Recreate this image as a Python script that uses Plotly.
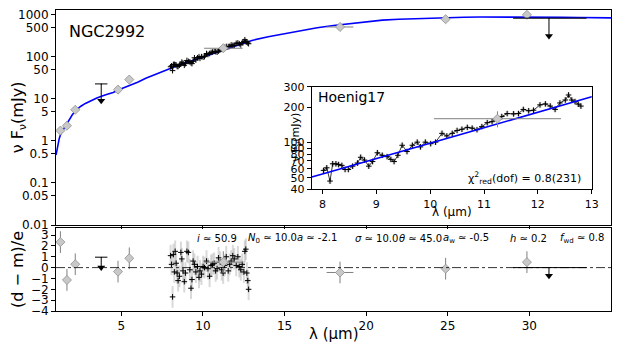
import plotly.graph_objects as go

# ---- data ----
# model SED (blue curve)
model_wave = [1.0, 1.1, 1.2, 1.3, 1.4, 1.5, 1.6, 1.7, 1.85, 2.0, 2.2, 2.5, 2.8, 3.1, 3.5,
              4.0, 4.5, 5.0, 5.5, 6.0, 6.5, 7.0, 7.5, 7.8, 8.0, 8.5, 9.0, 9.5, 10.0, 10.5,
              11.0, 11.5, 12.0, 12.5, 13.0, 14.0, 15.0, 16.0, 17.0, 18.0, 19.0, 20.0, 21.0,
              22.0, 23.0, 24.0, 25.0, 26.0, 27.0, 28.0, 29.0, 30.0, 31.0, 32.0, 33.0, 34.0, 35.0]
model_flux = [0.46, 0.75, 1.15, 1.5, 1.75, 1.95, 2.2, 2.6, 3.4, 4.2, 5.2, 6.6, 7.8, 9.0, 10.5,
              12.3, 14.2, 17.5, 20.5, 25, 31, 37, 45, 51, 54, 63, 73, 85, 99, 115,
              134, 156, 181, 211, 246, 300, 355, 425, 490, 555, 615, 690, 745,
              785, 815, 845, 862, 875, 885, 888, 886, 882, 875, 868, 860, 852, 845]

# photometry (grey diamonds)
phot_wave = [1.27, 1.67, 2.18, 4.8, 5.49, 11.25, 18.4, 24.87, 29.85]
phot_flux = [1.76, 2.3, 5.5, 16.6, 28.8, 160, 513, 785, 1000]
phot_ferr = [0.25, 0.3, 0.6, 3.5, 4.5, 25, 50, 150, 200]
phot_werr = [0, 0, 0, 0, 0, 1.18, 0.82, 0, 0]
phot_resid = [2.35, -1.14, 0.31, -0.37, 0.86, 0.5, -0.45, -0.1, 0.5]

# upper limits
ul_wave = [3.77, 31.2]
ul_flux = [22.7, 830]
ul_tip = [9.0, 313]
ul_werr_minus = [0.38, 2.2]
ul_werr_plus = [0.38, 2.3]
ul_resid_cap = [0.96, 0.0]
ul_resid_tip = [0.0, -0.75]

# N-band spectrum (Hoenig17)
spec_wave = [8.02, 8.08, 8.14, 8.19, 8.25, 8.30, 8.36, 8.42, 8.48, 8.56, 8.65, 8.71, 8.78, 8.86,
             8.93, 9.02, 9.11, 9.20, 9.27, 9.33, 9.40, 9.48, 9.57, 9.67, 9.76, 9.82, 9.91, 10.01,
             10.10, 10.22, 10.31, 10.41, 10.50, 10.59, 10.69, 10.78, 10.87, 10.96, 11.06, 11.15,
             11.24, 11.33, 11.43, 11.55, 11.64, 11.73, 11.83, 11.92, 12.04, 12.14, 12.23, 12.32,
             12.41, 12.51, 12.57, 12.63, 12.69, 12.75, 12.80]
spec_flux = [58, 61, 47, 66, 66, 65, 64, 59, 59, 63, 67, 75, 71, 63,
             69, 82, 78, 76, 72, 69, 78, 95, 84, 95, 101, 92, 101, 98,
             101, 120, 114, 120, 127, 130, 135, 133, 129, 137, 148, 151,
             161, 167, 177, 176, 177, 192, 187, 189, 210, 214, 205, 192,
             218, 231, 255, 231, 224, 213, 205]
spec_resid = [1.1, 0.3, -2.7, 1.2, -0.4, 1.5, 0.4, -0.5, -1.2, -0.8, 1.4, 0.8, -0.3, -1.3,
              -0.5, 1.5, 1.4, -0.2, -1.9, -1.1, 0.6, 0.3, -0.4, 0.1, -0.9, -0.3, -0.6, 0.1,
              0.0, 0.6, -0.1, -0.8, 0.2, 0.3, 0.4, -0.3, -0.1, 0.9, 0.5, -0.2,
              -0.5, 0.2, 1.0, -0.3, 0.3, 0.6, 1.1, 0.8, 0.2, 1.0, 0.1, -0.2,
              0.3, -0.4, 1.5, 1.7, -0.5, -1.2, -2.0]

main_yticks = [0.01, 0.05, 0.1, 0.5, 1, 5, 10, 50, 100, 500, 1000]
main_yticktext = ["0.01", "0.05", "0.1", "0.5", "1", "5", "10", "50", "100", "500", "1000"]
res_yticks = [-4, -3, -2, -1, 0, 1, 2, 3]
res_yticktext = ["\u22124", "\u22123", "\u22122", "\u22121", "0", "1", "2", "3"]
inset_yticks = [40, 50, 60, 70, 80, 90, 100, 200, 300]
x_ticks = [5, 10, 15, 20, 25, 30]

# ---- style ----
FONT = "DejaVu Sans"
BLUE = "#0000ff"
DIAMOND_FILL = "#c8c8c8"
DIAMOND_EDGE = "#909090"
ERR_GREY = "#808080"
SPEC_ERR = "rgba(170,170,170,0.45)"

# the page body adds an 8px offset, so the figure is drawn 8px smaller
PAGE_OFF = 8
W, H = 623 - PAGE_OFF, 346 - PAGE_OFF
ML, MR, MT, MB = 56 - PAGE_OFF, 12, 10 - PAGE_OFF, 35
PW, PH = 555, 301   # plot area in px


def px_x(X):
    """Screen x (reference pixels) -> paper fraction."""
    return (X - 56) / PW


def px_y(Y):
    """Screen y (reference pixels) -> paper fraction."""
    return (311 - Y) / PH


def base_axis(ticklen=4):
    return dict(
        showgrid=False, zeroline=False, showline=True, linecolor="black", linewidth=1,
        mirror=True, ticks="outside", ticklen=ticklen, tickwidth=1, tickcolor="black",
        automargin=False, ticklabeloverflow="allow",
    )


def diamonds(x, y, yerr, xerr, xa, ya, yerr_const=None):
    ey = (dict(type="constant", value=yerr_const, color=ERR_GREY, thickness=1, width=0)
          if yerr_const is not None else
          dict(type="data", array=yerr, color=ERR_GREY, thickness=1, width=0))
    return go.Scatter(x=x, y=y, mode="markers", error_y=ey,
                      error_x=dict(type="data", array=xerr, color=ERR_GREY, thickness=1, width=0),
                      marker=dict(symbol="diamond", size=7, color=DIAMOND_FILL,
                                  line=dict(color=DIAMOND_EDGE, width=0.8)),
                      xaxis=xa, yaxis=ya)


def upper_limits(caps, tips, xa, ya):
    traces = [go.Scatter(x=ul_wave, y=caps, mode="markers", marker=dict(size=1, color="black"),
                         error_x=dict(type="data", array=ul_werr_plus, arrayminus=ul_werr_minus,
                                      color="black", thickness=1, width=0),
                         xaxis=xa, yaxis=ya)]
    for w, c, t in zip(ul_wave, caps, tips):
        traces.append(go.Scatter(x=[w, w], y=[c, t], mode="lines",
                                 line=dict(color="black", width=1), xaxis=xa, yaxis=ya))
    traces.append(go.Scatter(x=ul_wave, y=tips, mode="markers",
                             marker=dict(symbol="triangle-down", size=7, color="black"),
                             xaxis=xa, yaxis=ya))
    return traces


fig = go.Figure()

# main panel
fig.add_trace(go.Scatter(x=model_wave, y=model_flux, mode="lines",
                         line=dict(color=BLUE, width=1.6), xaxis="x", yaxis="y"))
fig.add_trace(go.Scatter(x=spec_wave, y=spec_flux, mode="lines+markers",
                         line=dict(color="black", width=1),
                         marker=dict(symbol="cross-thin", size=4, line=dict(color="black", width=1)),
                         xaxis="x", yaxis="y"))
fig.add_trace(diamonds(phot_wave, phot_flux, phot_ferr, phot_werr, "x", "y"))
fig.add_traces(upper_limits(ul_flux, ul_tip, "x", "y"))

# residual panel
fig.add_trace(go.Scatter(x=spec_wave, y=spec_resid, mode="markers",
                         error_y=dict(type="constant", value=1, color=SPEC_ERR, thickness=2, width=0),
                         marker=dict(symbol="cross-thin", size=4, line=dict(color="black", width=1)),
                         xaxis="x2", yaxis="y2"))
fig.add_trace(diamonds(phot_wave, phot_resid, None, phot_werr, "x2", "y2", yerr_const=1))
fig.add_traces(upper_limits(ul_resid_cap, ul_resid_tip, "x2", "y2"))

# inset
fig.add_trace(go.Scatter(x=spec_wave, y=spec_flux, mode="lines+markers",
                         line=dict(color="black", width=0.8),
                         error_y=dict(type="percent", value=5, color=SPEC_ERR, thickness=3, width=0),
                         marker=dict(symbol="cross-thin", size=4, line=dict(color="black", width=1)),
                         xaxis="x3", yaxis="y3"))
fig.add_trace(go.Scatter(x=model_wave, y=model_flux, mode="lines",
                         line=dict(color=BLUE, width=1.6), xaxis="x3", yaxis="y3"))
fig.add_trace(diamonds(phot_wave, phot_flux, phot_ferr, phot_werr, "x3", "y3"))

PAR_Y = px_y(238)
PAR_FONT = dict(size=10)
annotations = [
    dict(text="NGC2992", x=px_x(67), y=px_y(31), font=dict(size=16)),
    dict(text="Hoenig17", x=px_x(316), y=px_y(97), font=dict(size=14)),
    dict(text="\u03c7<sup>2</sup><sub>red</sub>(dof) = 0.8(231)", x=px_x(466), y=px_y(178), font=dict(size=11)),
    dict(text="<i>i</i> \u2243 50.9", x=px_x(195), y=PAR_Y, font=PAR_FONT),
    dict(text="<i>N</i><sub>0</sub> \u2243 10.0<i>a</i> \u2243 -2.1", x=px_x(246), y=PAR_Y, font=PAR_FONT),
    dict(text="<i>\u03c3</i> \u2243 10.0", x=px_x(353), y=PAR_Y, font=PAR_FONT),
    dict(text="<i>\u03b8</i> \u2243 45.0", x=px_x(397), y=PAR_Y, font=PAR_FONT),
    dict(text="<i>a</i><sub>w</sub> \u2243 -0.5", x=px_x(441), y=PAR_Y, font=PAR_FONT),
    dict(text="<i>h</i> \u2243 0.2", x=px_x(508), y=PAR_Y, font=PAR_FONT),
    dict(text="<i>f</i><sub>wd</sub> \u2243 0.8", x=px_x(558), y=PAR_Y, font=PAR_FONT),
    # axis titles placed by hand
    dict(text="\u03bb (\u00b5m)", x=px_x(333.5), y=px_y(334), xanchor="center", font=dict(size=15)),
    dict(text="\u03bb (\u00b5m)", x=px_x(451.7), y=px_y(212), xanchor="center", font=dict(size=12)),
    dict(text="\u03bd F<sub>\u03bd</sub>(mJy)", x=px_x(296), y=px_y(138), xanchor="center",
         textangle=-90, font=dict(size=11)),
]
for a in annotations:
    a.setdefault("xanchor", "left")
    a.update(xref="paper", yref="paper", yanchor="middle", showarrow=False)

fig.update_layout(
    width=W, height=H,
    margin=dict(l=ML, r=MR, t=MT, b=MB),
    paper_bgcolor="white", plot_bgcolor="white",
    font=dict(family=FONT, color="black", size=12),
    showlegend=False,
    annotations=annotations,
    shapes=[dict(type="line", xref="x2 domain", yref="y2", x0=0, x1=1, y0=0, y1=0,
                 line=dict(color="black", width=0.8, dash="dashdot"))],
    xaxis=dict(**base_axis(3), domain=[0, 1], range=[1, 35], anchor="y",
               tickvals=x_ticks, showticklabels=False),
    yaxis=dict(**base_axis(), domain=[px_y(225), 1], type="log", range=[-2, 3.114], anchor="x",
               tickvals=main_yticks, ticktext=main_yticktext, tickfont=dict(size=12),
               title=dict(text="\u03bd F<sub>\u03bd</sub>(mJy)", font=dict(size=16), standoff=8)),
    xaxis2=dict(**base_axis(), domain=[0, 1], range=[1, 35], anchor="y2",
                tickvals=x_ticks, tickfont=dict(size=12)),
    yaxis2=dict(**base_axis(), domain=[0, px_y(228)], range=[-4, 3.65], anchor="x2",
                tickvals=res_yticks, ticktext=res_yticktext, tickfont=dict(size=12),
                title=dict(text="(d \u2212 m)/e", font=dict(size=16), standoff=8)),
    xaxis3=dict(**base_axis(), domain=[px_x(311.7), px_x(591.7)], range=[7.8, 13], anchor="y3",
                dtick=1, tickfont=dict(size=11)),
    yaxis3=dict(**base_axis(), domain=[px_y(189.3), px_y(86.7)], type="log",
                range=[1.60206, 2.47712], anchor="x3",
                tickvals=inset_yticks, ticktext=[str(v) for v in inset_yticks], tickfont=dict(size=11)),
)

fig.write_html("out.html")
